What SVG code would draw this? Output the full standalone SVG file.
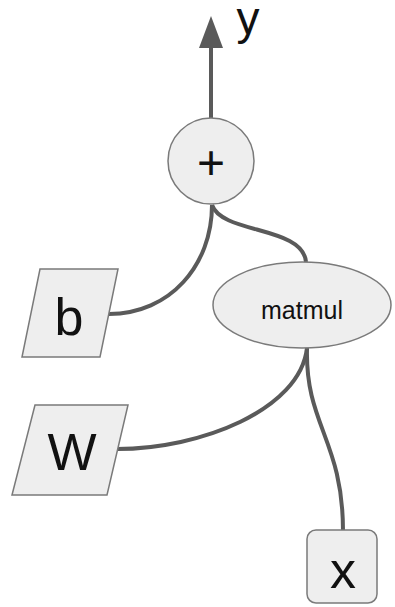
<svg xmlns="http://www.w3.org/2000/svg" width="395" height="607" viewBox="0 0 395 607">
<defs>
<style>
.node{fill:#eeeeee;stroke:#7a7a7a;stroke-width:1.5}
.edge{fill:none;stroke:#5a5a5a;stroke-width:4}
.lbl{font-family:"Liberation Sans",Arial,sans-serif;fill:#111;text-anchor:middle}
</style>
</defs>
<rect width="395" height="607" fill="#ffffff"/>
<g id="connectors">
<path class="edge" d="M211,118 L211,46"/>
<polygon points="211,16 223,48 199,48" fill="#5a5a5a"/>
<path class="edge" d="M212,205 C212,265 170,314 109,314"/>
<path class="edge" d="M212,205 C222,234 303,226 306,262"/>
<path class="edge" d="M307,348 C300,410 200,449 117,449"/>
<path class="edge" d="M307,348 C305,425 343,440 343,531"/>
</g>
<g id="y-label">
<text class="lbl" x="248" y="34" font-size="46">y</text>
</g>
<g id="plus">
<circle class="node" cx="211" cy="161" r="43"/>
<text class="lbl" x="211" y="179" font-size="48">+</text>
</g>
<g id="b">
<polygon class="node" points="40,269 118,269 100,357 22,357"/>
<text class="lbl" x="69" y="335" font-size="52">b</text>
</g>
<g id="matmul">
<ellipse class="node" cx="302" cy="305" rx="89" ry="43"/>
<text class="lbl" x="302" y="319" font-size="25">matmul</text>
</g>
<g id="W">
<polygon class="node" points="35,405 128,405 107,495 12,495"/>
<text class="lbl" x="72" y="470" font-size="52">W</text>
</g>
<g id="x">
<rect class="node" x="307" y="530" width="70" height="73" rx="9"/>
<text class="lbl" x="343" y="588" font-size="52">x</text>
</g>
</svg>
